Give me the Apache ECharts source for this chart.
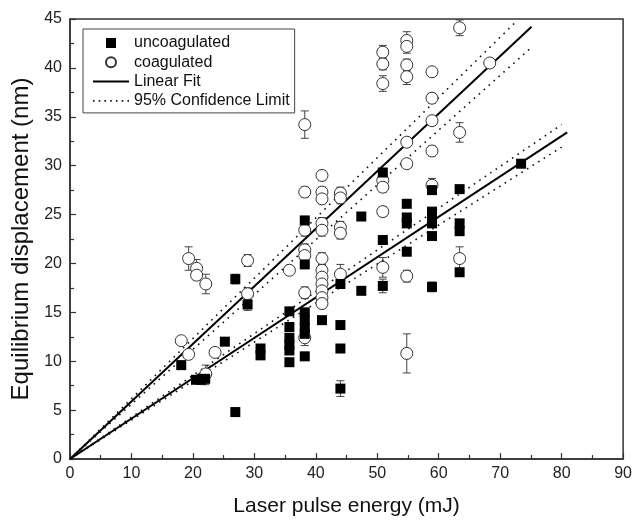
<!DOCTYPE html>
<html>
<head>
<meta charset="utf-8">
<script src="https://cdn.jsdelivr.net/npm/echarts@6/dist/echarts.min.js"></script>
<style>html,body{margin:0;padding:0;background:#fff;}#c{width:635px;height:522px;}</style>
</head>
<body>
<div id="c"></div>
<script>
// [energy mJ, displacement nm, error half-width nm]
const uncoagulated = [
  [18.1,9.6,0.4],
  [20.5,8.1,0.3],[21.3,8.1,0.3],[22.0,8.2,0.6],
  [25.2,12.0,0.3],
  [26.9,18.4,0.5],[26.9,4.8,0.4],
  [28.9,15.8,0.6],
  [31.0,11.3,0.3],[31.0,10.6,0.3],
  [35.7,15.1,0.3],[35.7,13.5,0.3],[35.7,12.4,0.3],[35.7,11.7,0.3],[35.7,11.1,0.3],[35.7,9.9,0.3],
  [38.2,24.4,0.3],[38.2,19.9,0.4],[38.2,15.0,0.3],[38.2,14.2,0.3],[38.2,13.4,0.3],[38.2,12.8,0.3],[38.2,10.5,0.4],
  [41.0,14.2,0.3],
  [44.0,17.9,0.4],[44.0,13.7,0.3],[44.0,11.3,0.3],[44.0,7.2,0.8],
  [47.4,24.8,0.3],[47.4,17.2,0.3],
  [50.9,29.3,0.3],[50.9,22.4,0.3],[50.9,17.7,0.7],
  [54.8,26.1,0.3],[54.8,24.7,0.3],[54.8,24.1,0.3],[54.8,21.2,0.4],
  [58.9,27.5,0.3],[58.9,25.3,0.3],[58.9,24.6,0.3],[58.9,24.1,0.3],[58.9,22.8,0.3],[58.9,17.6,0.5],
  [63.4,27.6,0.3],[63.4,24.1,0.3],[63.4,23.3,0.3],[63.4,19.1,0.4],
  [73.4,30.2,0.3]
];
const coagulated = [
  [18.1,12.1,0.4],
  [19.3,20.5,1.2],[19.3,10.7,0.4],
  [20.6,19.5,0.9],[20.6,18.8,0.5],
  [22.1,17.9,1.0],[22.1,8.7,0.9],
  [23.6,10.9,0.4],
  [28.9,20.3,0.6],[28.9,16.9,0.6],
  [35.7,19.3,0.4],
  [38.2,34.2,1.4],[38.2,27.3,0.5],[38.2,23.4,0.6],[38.2,21.4,0.6],[38.2,20.8,0.6],[38.2,17.0,0.6],[38.2,12.4,0.8],
  [41.0,29.0,0.5],[41.0,27.3,0.5],[41.0,26.6,0.5],[41.0,24.1,0.6],[41.0,23.4,0.6],[41.0,20.5,0.6],[41.0,19.3,0.5],[41.0,18.6,0.5],[41.0,17.9,0.5],[41.0,17.2,0.5],[41.0,16.5,0.5],[41.0,15.9,0.5],
  [44.0,27.2,0.6],[44.0,26.7,0.6],[44.0,23.7,0.6],[44.0,23.1,0.6],[44.0,18.9,1.0],
  [50.9,41.6,0.7],[50.9,40.4,0.6],[50.9,38.4,0.8],[50.9,28.5,0.5],[50.9,27.8,0.5],[50.9,25.3,0.5],[50.9,19.6,1.0],
  [54.8,42.8,0.9],[54.8,42.2,0.7],[54.8,40.3,0.6],[54.8,39.1,0.8],[54.8,32.4,0.4],[54.8,30.2,0.4],[54.8,18.7,0.6],[54.8,10.8,2.0],
  [58.9,39.6,0.4],[58.9,36.9,0.5],[58.9,34.6,0.4],[58.9,31.5,0.5],[58.9,28.0,0.7],
  [63.4,44.1,0.8],[63.4,33.4,1.0],[63.4,20.5,1.2],
  [68.3,40.5,0.3]
];
// fit lines and 95% confidence limits (end points)
const fitUncoag = [[0,0],[80.9,33.4]];
const ciUncoagUpper = [[0,0],[80.0,34.2]];
const ciUncoagLower = [[0,0],[80.0,31.9]];
const fitCoag = [[0,0],[75.1,44.2]];
const ciCoagUpper = [[0,0],[72.7,44.8]];
const ciCoagLower = [[0,0],[75.1,42.1]];

const legendNames = ['uncoagulated','coagulated','Linear Fit','95% Confidence Limit'];
const xTicks = {min:0, max:90, interval:10};
const yTicks = {min:0, max:45, interval:5};

const FONT = '"Liberation Sans", Arial, sans-serif';

function errRender(params, api){
  const x = api.value(0), y = api.value(1), e = api.value(2);
  const t = api.coord([x, y + e]), b = api.coord([x, y - e]);
  const hw = 4;
  const st = {stroke:'#444', lineWidth:1};
  return {type:'group', children:[
    {type:'line', shape:{x1:t[0],y1:t[1],x2:b[0],y2:b[1]}, style:st},
    {type:'line', shape:{x1:t[0]-hw,y1:t[1],x2:t[0]+hw,y2:t[1]}, style:st},
    {type:'line', shape:{x1:b[0]-hw,y1:b[1],x2:b[0]+hw,y2:b[1]}, style:st}
  ]};
}

const dotted = {color:'#111', width:1.6, type:[1.6,5]};
const solid = {color:'#000', width:2};

// legend icons
let dotPath = 'path://';
for (let i = 0; i < 7; i++) { const x0 = (i * 34.4 / 6).toFixed(2); dotPath += 'M' + x0 + ',0h1.6v1.6h-1.6z '; }
const solidPath = 'path://M0,0H36V2H0Z';

const chart = echarts.init(document.getElementById('c'), null, {renderer:'canvas'});
chart.setOption({
  animation:false,
  backgroundColor:'#fff',
  textStyle:{fontFamily:FONT},
  grid:{left:70, right:9, top:19, bottom:59, show:true, borderColor:'#333', borderWidth:1.5, backgroundColor:'transparent'},
  legend:{
    left:83, top:29, orient:'vertical',
    borderColor:'#444', borderWidth:1, padding:[6,5,4,10],
    itemWidth:36, itemHeight:10, itemGap:3.3,
    textStyle:{fontSize:16, lineHeight:16, color:'#111', fontFamily:FONT},
    data:[
      {name:legendNames[0], icon:'path://M0,0H10V10H0Z'},
      {name:legendNames[1], icon:'circle'},
      {name:legendNames[2], icon:solidPath, itemStyle:{color:'#000', borderWidth:0}},
      {name:legendNames[3], icon:dotPath, itemStyle:{color:'#111', borderWidth:0}}
    ]
  },
  xAxis:{
    type:'value', min:xTicks.min, max:xTicks.max, interval:xTicks.interval,
    name:'Laser pulse energy (mJ)', nameLocation:'middle', nameGap:37,
    nameTextStyle:{fontSize:21, color:'#111', fontFamily:FONT},
    axisLine:{lineStyle:{color:'#333', width:1.5}},
    axisTick:{inside:true, length:6, lineStyle:{color:'#333', width:1.2}},
    minorTick:{show:true, splitNumber:2, length:4, lineStyle:{color:'#333', width:1.2}},
    axisLabel:{fontSize:16, color:'#222', margin:7, fontFamily:FONT},
    splitLine:{show:false}
  },
  yAxis:{
    type:'value', min:yTicks.min, max:yTicks.max, interval:yTicks.interval,
    name:'Equilibrium displacement (nm)', nameLocation:'middle', nameGap:32,
    nameTextStyle:{fontSize:24, color:'#111', fontFamily:FONT},
    axisLine:{lineStyle:{color:'#333', width:1.5}},
    axisTick:{inside:true, length:6, lineStyle:{color:'#333', width:1.2}},
    minorTick:{show:true, splitNumber:2, length:4, lineStyle:{color:'#333', width:1.2}},
    axisLabel:{fontSize:16, color:'#222', margin:8, fontFamily:FONT},
    splitLine:{show:false}
  },
  series:[
    {name:'errU', type:'custom', renderItem:errRender, data:uncoagulated, encode:{x:0,y:1}, z:1, silent:true},
    {name:'errC', type:'custom', renderItem:errRender, data:coagulated, encode:{x:0,y:1}, z:1, silent:true},
    {name:legendNames[2], type:'line', data:fitUncoag, symbol:'none', lineStyle:solid, itemStyle:{color:'#000'}, z:2, silent:true},
    {name:legendNames[2], type:'line', data:fitCoag, symbol:'none', lineStyle:solid, itemStyle:{color:'#000'}, z:2, silent:true},
    {name:legendNames[3], type:'line', data:ciUncoagUpper, symbol:'none', lineStyle:dotted, itemStyle:{color:'#111'}, z:2, silent:true},
    {name:legendNames[3], type:'line', data:ciUncoagLower, symbol:'none', lineStyle:dotted, itemStyle:{color:'#111'}, z:2, silent:true},
    {name:legendNames[3], type:'line', data:ciCoagUpper, symbol:'none', lineStyle:dotted, itemStyle:{color:'#111'}, z:2, silent:true},
    {name:legendNames[3], type:'line', data:ciCoagLower, symbol:'none', lineStyle:dotted, itemStyle:{color:'#111'}, z:2, silent:true},
    {name:legendNames[1], type:'scatter', data:coagulated, encode:{x:0,y:1}, symbol:'circle', symbolSize:12,
      itemStyle:{color:'#fff', borderColor:'#333', borderWidth:1, opacity:1}, z:3},
    {name:legendNames[0], type:'scatter', data:uncoagulated, encode:{x:0,y:1}, symbol:'rect', symbolSize:10,
      itemStyle:{color:'#000', opacity:1}, z:4}
  ]
});
</script>
</body>
</html>
